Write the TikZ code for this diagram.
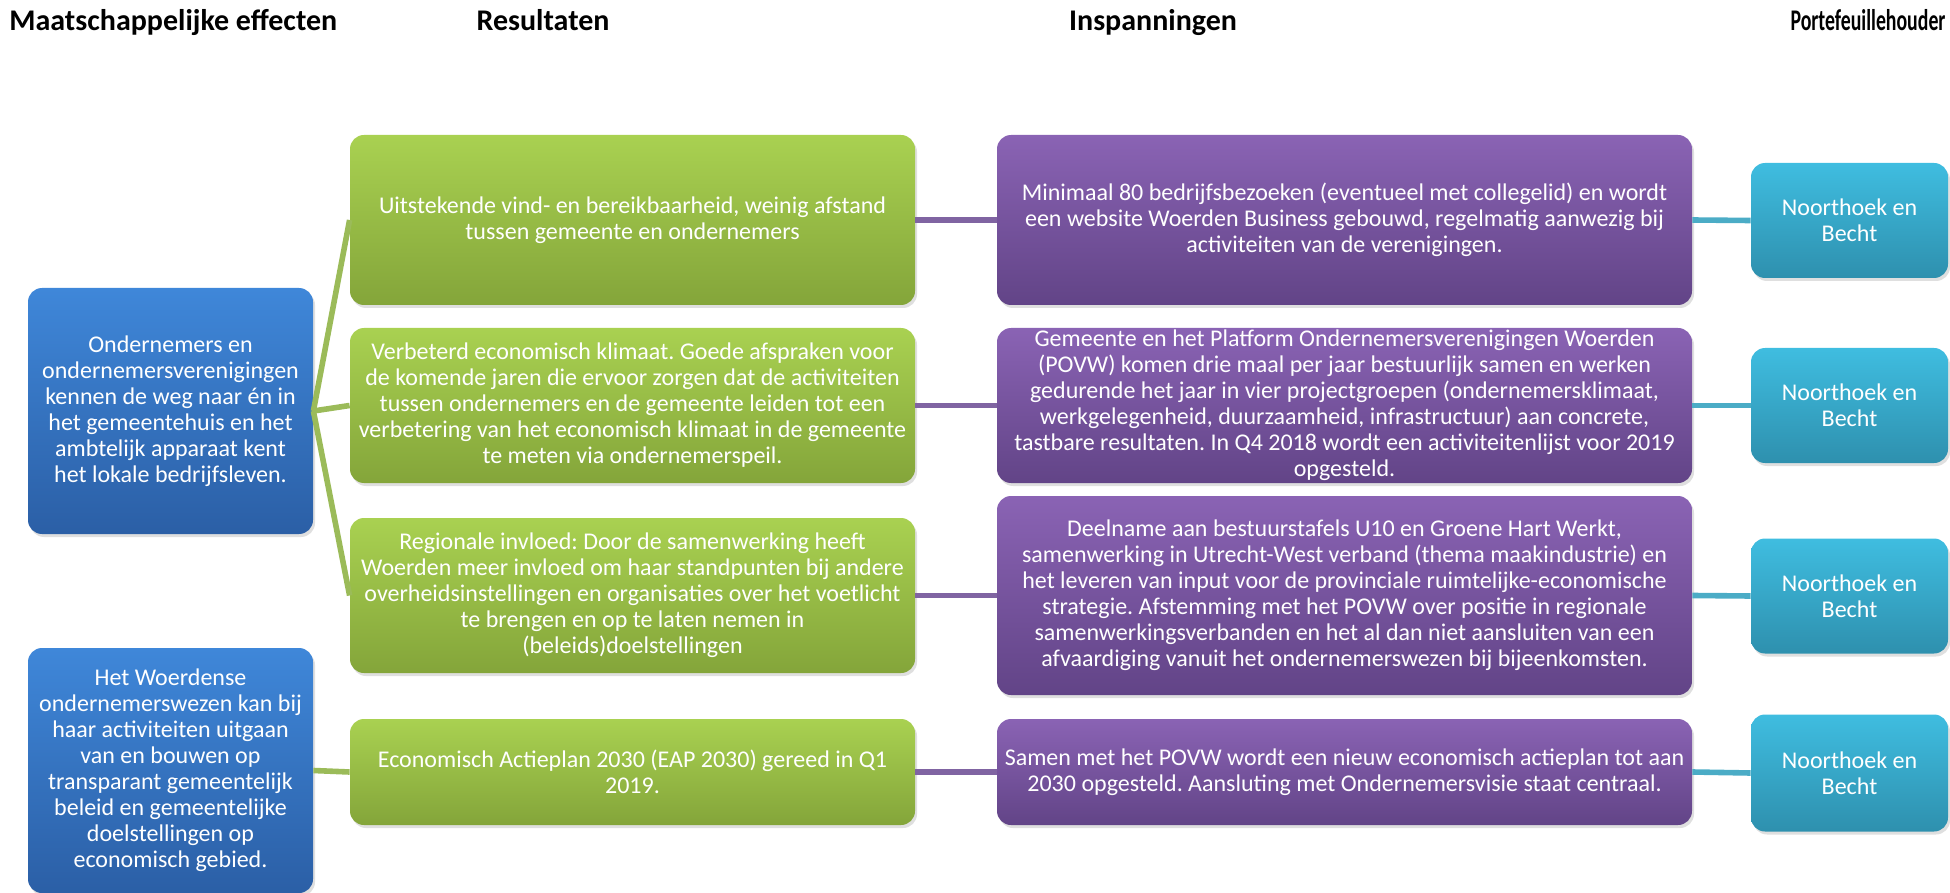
\documentclass[tikz,border=0pt]{standalone}
\usepackage{fontspec}
\setmainfont{Carlito}
\usepackage{tikz}
\usetikzlibrary{shadows}
\frenchspacing

\definecolor{effecttop}{HTML}{3F87D9}
\definecolor{effectbot}{HTML}{2B5FA6}
\definecolor{resulttop}{HTML}{A9D151}
\definecolor{resultbot}{HTML}{84A53A}
\definecolor{efforttop}{HTML}{8A63B4}
\definecolor{effortbot}{HTML}{624487}
\definecolor{ownertop}{HTML}{3FBDE0}
\definecolor{ownerbot}{HTML}{2E90AE}
\definecolor{greenline}{HTML}{9BBB59}
\definecolor{purpleline}{HTML}{8064A2}
\definecolor{tealline}{HTML}{4BACC6}

\begin{document}
\begin{tikzpicture}[
x=0.5pt,y=-0.5pt,
box/.style={rounded corners=7pt,align=center,text=white,inner xsep=2pt,inner ysep=0pt,
  font=\fontsize{12}{13}\selectfont,
  drop shadow={opacity=0.25,shadow xshift=1pt,shadow yshift=-1.5pt}},
effect/.style={box,top color=effecttop,bottom color=effectbot,minimum width=142.5pt,minimum height=123pt},
result/.style={box,top color=resulttop,bottom color=resultbot,minimum width=282.5pt},
effort/.style={box,top color=efforttop,bottom color=effortbot,minimum width=347.5pt},
owner/.style={box,top color=ownertop,bottom color=ownerbot,minimum width=98.5pt,minimum height=57.5pt},
head/.style={font=\fontsize{15}{17}\selectfont\bfseries,inner sep=0pt},
link/.style={line width=2.8pt},
]
\useasboundingbox (0,0) rectangle (1950,893);
% column headers
\node[head,anchor=base west] (h1) at (9,31) {Maatschappelijke effecten};
\node[head,anchor=base] (h2) at (543,31) {Resultaten};
\node[head,anchor=base] (h3) at (1153,31) {Inspanningen};
\node[head,anchor=base] (h4) at (1868,31) {\scalebox{0.66}[1]{Portefeuillehouder}};
% maatschappelijke effecten
\node[effect] (e1) at (170.5,411) {Ondernemers en\\ondernemersverenigingen\\kennen de weg naar én in\\het gemeentehuis en het\\ambtelijk apparaat kent\\het lokale bedrijfsleven.};
\node[effect,minimum height=122.5pt] (e2) at (170.5,770.5) {Het Woerdense\\ondernemerswezen kan bij\\haar activiteiten uitgaan\\van en bouwen op\\transparant gemeentelijk\\beleid en gemeentelijke\\doelstellingen op\\economisch gebied.};
% resultaten
\node[result,minimum height=85pt] (r1) at (632.5,220) {Uitstekende vind- en bereikbaarheid, weinig afstand\\tussen gemeente en ondernemers};
\node[result,minimum height=77.5pt] (r2) at (632.5,405.5) {Verbeterd economisch klimaat. Goede afspraken voor\\de komende jaren die ervoor zorgen dat de activiteiten\\tussen ondernemers en de gemeente leiden tot een\\verbetering van het economisch klimaat in de gemeente\\te meten via ondernemerspeil.};
\node[result,minimum height=77.5pt] (r3) at (632.5,595.5) {Regionale invloed: Door de samenwerking heeft\\Woerden meer invloed om haar standpunten bij andere\\overheidsinstellingen en organisaties over het voetlicht\\te brengen en op te laten nemen in\\(beleids)doelstellingen};
\node[result,minimum height=53pt] (r4) at (632.5,772) {Economisch Actieplan 2030 (EAP 2030) gereed in Q1\\2019.};
% inspanningen
\node[effort,minimum height=85pt] (i1) at (1344.5,220) {Minimaal 80 bedrijfsbezoeken (eventueel met collegelid) en wordt\\een website Woerden Business gebouwd, regelmatig aanwezig bij\\activiteiten van de verenigingen.};
\node[effort,minimum height=77.5pt] (i2) at (1344.5,405.5) {Gemeente en het Platform Ondernemersverenigingen Woerden\\(POVW) komen drie maal per jaar bestuurlijk samen en werken\\gedurende het jaar in vier projectgroepen (ondernemersklimaat,\\werkgelegenheid, duurzaamheid, infrastructuur) aan concrete,\\tastbare resultaten. In Q4 2018 wordt een activiteitenlijst voor 2019\\opgesteld.};
\node[effort,minimum height=99.5pt] (i3) at (1344.5,595.5) {Deelname aan bestuurstafels U10 en Groene Hart Werkt,\\samenwerking in Utrecht-West verband (thema maakindustrie) en\\het leveren van input voor de provinciale ruimtelijke-economische\\strategie. Afstemming met het POVW over positie in regionale\\samenwerkingsverbanden en het al dan niet aansluiten van een\\afvaardiging vanuit het ondernemerswezen bij bijeenkomsten.};
\node[effort,minimum height=53pt] (i4) at (1344.5,772) {Samen met het POVW wordt een nieuw economisch actieplan tot aan\\2030 opgesteld. Aansluting met Ondernemersvisie staat centraal.};
% portefeuillehouders
\node[owner] (p1) at (1849.5,220.5) {Noorthoek en\\Becht};
\node[owner] (p2) at (1849.5,405.5) {Noorthoek en\\Becht};
\node[owner] (p3) at (1849.5,596) {Noorthoek en\\Becht};
\node[owner,minimum height=58.5pt] (p4) at (1849.5,773) {Noorthoek en\\Becht};
% verbindingen
\draw[link,greenline] (e1.east) -- (r1.west);
\draw[link,greenline] (e1.east) -- (r2.west);
\draw[link,greenline] (e1.east) -- (r3.west);
\draw[link,greenline] (e2.east) -- (r4.west);
\foreach \n in {1,...,4}{
  \draw[link,purpleline] (r\n.east) -- (i\n.west);
  \draw[link,tealline] (i\n.east) -- (p\n.west);
}
\end{tikzpicture}
\end{document}
